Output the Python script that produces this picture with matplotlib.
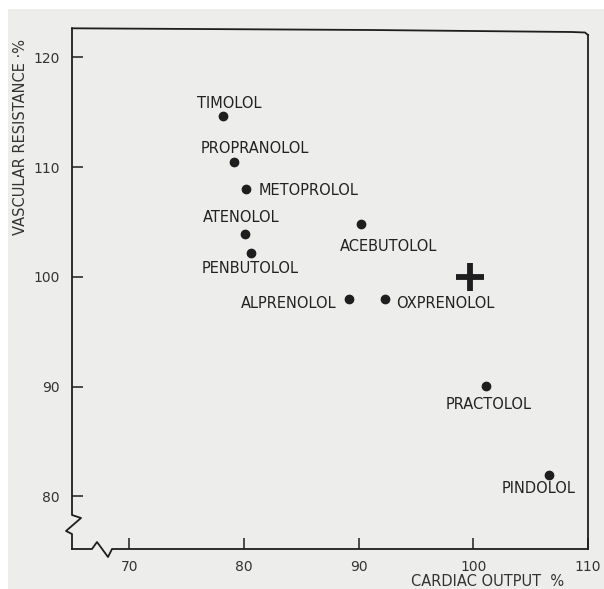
import matplotlib
matplotlib.use("Agg")
import matplotlib.pyplot as plt
from matplotlib.lines import Line2D
from matplotlib.patches import Rectangle

# ---- data ----
drugs = ["TIMOLOL", "PROPRANOLOL", "METOPROLOL", "ATENOLOL", "PENBUTOLOL",
         "ACEBUTOLOL", "ALPRENOLOL", "OXPRENOLOL", "PRACTOLOL", "PINDOLOL"]
cardiac_output = [78.15, 79.1, 80.2, 80.1, 80.65, 90.2, 89.2, 92.3, 101.1, 106.6]
vascular_resistance = [114.7, 110.5, 108.0, 103.9, 102.2, 104.8, 98.0, 97.95, 90.1, 81.9]
control_point = (99.7, 100.0)
x_ticks = [70, 80, 90, 100, 110]
y_ticks = [80, 90, 100, 110, 120]

# ---- label placement (pixel offsets from dot, alignment) ----
label_style = {
    "TIMOLOL":     ((6, 12), "center"),
    "PROPRANOLOL": ((21, 13), "center"),
    "METOPROLOL":  ((12, -1.5), "left"),
    "ATENOLOL":    ((-4, 17), "center"),
    "PENBUTOLOL":  ((-1, -16), "center"),
    "ACEBUTOLOL":  ((28, -22.5), "center"),
    "ALPRENOLOL":  ((-13, -5), "right"),
    "OXPRENOLOL":  ((11, -4), "left"),
    "PRACTOLOL":   ((3, -19), "center"),
    "PINDOLOL":    ((-10, -13), "center"),
}

ink = "#1e1e1e"
bg = "#ededeb"
plt.rcParams["font.family"] = ["DejaVu Sans"]

fig = plt.figure(figsize=(6.04, 5.89), dpi=100, facecolor=bg)
# white scan margins (top and left)
fig.patches.append(Rectangle((0, 1 - 9 / 589), 1, 9 / 589, transform=fig.transFigure,
                             facecolor="white", edgecolor="none", zorder=0))
fig.patches.append(Rectangle((0, 0), 8 / 604, 1, transform=fig.transFigure,
                             facecolor="white", edgecolor="none", zorder=0))

ax = fig.add_axes([72 / 604, 40 / 589, 516 / 604, 519 / 589])
ax.set_facecolor(bg)
ax.patch.set_alpha(0)
ax.set_xlim(65.0, 110.0)
ax.set_ylim(75.2, 122.5)

for s in ax.spines.values():
    s.set_visible(False)

ax.set_xticks(x_ticks)
ax.set_yticks(y_ticks)
ax.tick_params(axis="both", direction="in", length=8, width=1.1, color=ink,
               labelsize=10, labelcolor="#333333")
ax.tick_params(axis="x", pad=8)
ax.tick_params(axis="y", pad=9)

# hand-drawn style frame with axis breaks (axes-fraction coords)
lw = 1.3
T = ax.transAxes
W, H = 516.0, 519.0
def px(x, y):
    return x / W, 1 - y / H
def draw(pts):
    ax.add_line(Line2D([p[0] for p in pts], [p[1] for p in pts], transform=T,
                       color=ink, lw=lw, clip_on=False, solid_joinstyle="round"))
# left spine with break
draw([px(0, -1.7), px(0, 485), px(9, 488), px(-6, 501), px(0, 504), px(0, 519)])
# bottom spine with break
draw([px(0, 519), px(20, 519), px(25, 512), px(36, 527), px(40, 519), px(516, 519)])
# right spine
draw([px(516, 519), px(516, 5)])
# top spine (slightly tilted as in the scan)
draw([px(0, -1.7), px(300, 0), px(500, 2), px(513, 2.5), px(516, 5)])

# points
ax.plot(cardiac_output, vascular_resistance, "o", ms=6, color=ink, zorder=3)
ax.plot([control_point[0]], [control_point[1]], marker="+", ms=20, mew=4.2,
        color=ink, zorder=3)

for name, x, y in zip(drugs, cardiac_output, vascular_resistance):
    (dx, dy), ha = label_style[name]
    ax.annotate(name, (x, y), xytext=(dx, dy), textcoords="offset pixels",
                ha=ha, va="center", fontsize=10.5, color="#222222")

fig.text(21 / 604, 1 - 137 / 589, "VASCULAR RESISTANCE \u00b7%", rotation=90,
         ha="center", va="center", fontsize=10.5, color="#333333")
fig.text(488 / 604, 1 - 582 / 589, "CARDIAC OUTPUT  %", ha="center",
         va="center", fontsize=10.5, color="#333333")

fig.savefig("out.png", dpi=100, facecolor=bg)
